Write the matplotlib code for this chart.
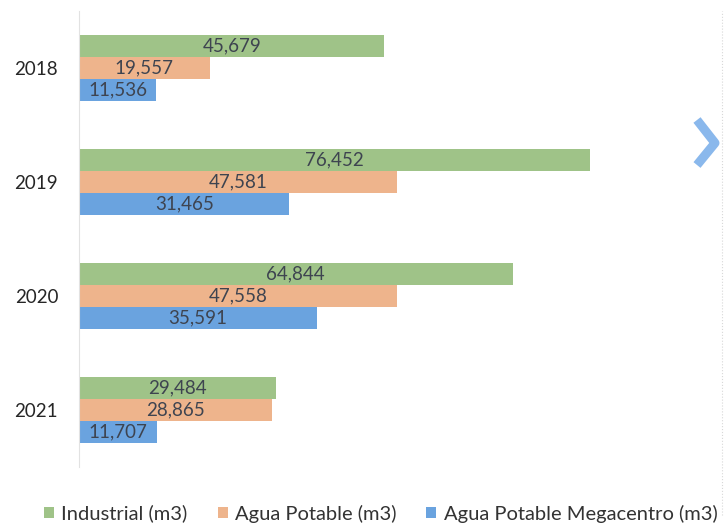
import matplotlib.pyplot as plt
import matplotlib.lines as mlines
import numpy as np

plt.rcParams['font.family'] = ['Lato', 'DejaVu Sans']

# ---- data ----
years = ['2018', '2019', '2020', '2021']
series = ['Industrial (m3)', 'Agua Potable (m3)', 'Agua Potable Megacentro (m3)']
industrial = [45679, 76452, 64844, 29484]
agua_potable = [19557, 47581, 47558, 28865]
megacentro = [11536, 31465, 35591, 11707]

colors = ['#9fc388', '#eeb48c', '#6aa3df']
values = [industrial, agua_potable, megacentro]

fig = plt.figure(figsize=(7.25, 5.26), dpi=100)
ax = fig.add_axes([0.109, 0.112, 0.83, 0.867])

y = np.arange(len(years))
h = 0.193
for i, (vals, col, name) in enumerate(zip(values, colors, series)):
    pos = y + (i - 1) * h
    bars = ax.barh(pos, vals, height=h, color=col, label=name, zorder=2)
    for b, v in zip(bars, vals):
        ax.text(v / 2, b.get_y() + b.get_height() / 2, f'{v:,}',
                ha='center', va='center', fontsize=13.5, color='#3e4450')

ax.set_ylim(len(years) - 0.5, -0.5)
ax.set_xlim(0, 90000)
ax.set_yticks(y)
ax.set_yticklabels(years, fontsize=13.5, color='#262626')
ax.set_xticks([])
ax.tick_params(axis='y', length=0, pad=15)
for s in ['top', 'right', 'bottom']:
    ax.spines[s].set_visible(False)
ax.spines['left'].set_color('#e2e2e2')
ax.spines['left'].set_linewidth(0.8)

leg = fig.legend(loc='lower center', bbox_to_anchor=(0.525, -0.028), ncol=3,
                 frameon=False, fontsize=14.5, handlelength=0.5, handleheight=0.5,
                 handletextpad=0.35, columnspacing=1.5)
for t in leg.get_texts():
    t.set_color('#333333')

# chevron decoration on the right
fig.add_artist(mlines.Line2D([697 / 725, 715 / 725, 697 / 725],
                             [1 - 120 / 526, 1 - 143 / 526, 1 - 165 / 526],
                             transform=fig.transFigure, color='#8ab8ec',
                             linewidth=6.5, solid_capstyle='butt'))
fig.add_artist(mlines.Line2D([722 / 725, 722 / 725], [0.02, 0.98],
                             transform=fig.transFigure, color='#d8d8d8',
                             linewidth=0.8, linestyle=':'))

fig.savefig('out.png', dpi=100)
